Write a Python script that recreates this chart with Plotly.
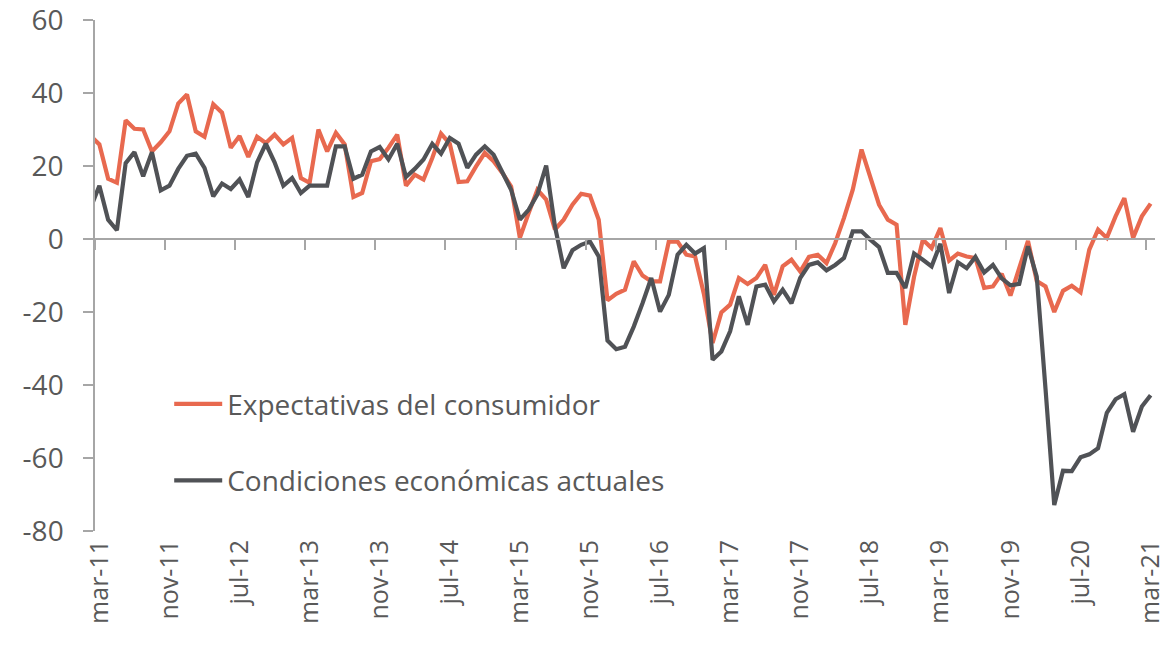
import numpy as np
import plotly.graph_objects as go

# Monthly series, feb-11 (partly hidden at the axis) to mar-21
MESES = ["ene", "feb", "mar", "abr", "may", "jun", "jul", "ago", "sep", "oct", "nov", "dic"]
months = [f"{MESES[(1 + i) % 12]}-{11 + (1 + i) // 12}" for i in range(122)]

expectativas = [
    28.2, 25.9, 16.5, 15.4, 32.5, 30.2, 30.0, 24.0, 26.5, 29.5, 37.1, 39.6, 29.5, 28.0, 36.9, 34.6,
    25.0, 28.2, 22.5, 28.0, 26.3, 28.6, 25.9, 27.7, 16.7, 15.4, 30.0, 24.0, 29.1, 25.9, 11.5, 12.6,
    21.3, 21.9, 25.0, 28.6, 14.6, 17.6, 16.3, 22.2, 28.9, 26.1, 15.6, 15.8, 19.9, 23.6, 21.3, 18.1,
    14.4, 0.3, 7.1, 13.5, 10.8, 2.6, 5.3, 9.4, 12.4, 11.9, 5.3, -16.8, -15.0, -13.9, -6.1, -10.0,
    -11.6, -11.6, -0.7, -0.7, -4.3, -4.8, -15.0, -28.5, -20.1, -18.0, -10.7, -12.3, -10.7, -7.1,
    -15.3, -7.5, -5.7, -8.9, -4.9, -4.3, -6.6, -1.1, 5.8, 13.5, 24.5, 17.2, 9.4, 5.3, 3.9, -23.5,
    -10.3, -0.2, -2.5, 3.0, -5.9, -4.0, -4.8, -5.2, -13.4, -13.0, -9.5, -15.5, -8.0, -0.5, -11.5,
    -13.0, -20.0, -14.2, -12.8, -14.6, -2.9, 2.6, 0.3, 6.2, 11.2, 0.3, 6.2, 9.7,
]

condiciones = [
    8.5, 14.6, 5.3, 2.4, 20.8, 23.8, 17.2, 23.8, 13.3, 14.6, 19.2, 22.8, 23.4, 19.5, 11.7, 15.2,
    13.7, 16.3, 11.5, 21.0, 26.1, 21.0, 14.6, 16.7, 12.6, 14.6, 14.6, 14.6, 25.4, 25.4, 16.5, 17.6,
    24.0, 25.2, 21.8, 26.1, 17.0, 19.2, 21.8, 26.1, 23.4, 27.7, 26.1, 19.5, 23.1, 25.4, 23.1, 18.1,
    13.5, 5.3, 8.0, 12.2, 20.1, 3.5, -8.0, -3.1, -1.6, -0.7, -4.8, -27.8, -30.2, -29.5, -24.0, -17.6,
    -10.7, -19.9, -15.3, -4.3, -1.6, -4.0, -2.5, -33.1, -30.8, -25.3, -15.7, -23.5, -13.0, -12.5,
    -17.1, -13.9, -17.6, -10.7, -7.1, -6.4, -8.6, -7.1, -5.2, 2.1, 2.1, -0.2, -2.2, -9.3, -9.3, -13.4,
    -4.0, -5.7, -7.5, -1.3, -14.8, -6.4, -8.0, -4.9, -9.2, -7.1, -10.8, -12.7, -12.3, -2.0, -10.3,
    -41.0, -72.9, -63.5, -63.6, -59.8, -59.0, -57.3, -47.6, -43.9, -42.5, -52.8, -45.9, -42.8,
]

tick_labels = ["mar-11", "nov-11", "jul-12", "mar-13", "nov-13", "jul-14", "mar-15", "nov-15",
               "jul-16", "mar-17", "nov-17", "jul-18", "mar-19", "nov-19", "jul-20", "mar-21"]
y_ticks = [60, 40, 20, 0, -20, -40, -60, -80]

x = np.arange(len(months)) - 1  # mar-11 -> 0
label_pos = [months.index(l) - 1 for l in tick_labels]
boundaries = [p - 0.5 for p in label_pos]

ORANGE = "#E8694F"
GREY = "#505256"
AXIS = "#A6A6A6"
TEXT = "#595959"
FONT = "Open Sans"

fig = go.Figure()
fig.add_trace(go.Scatter(x=x, y=expectativas, mode="lines", name="Expectativas del consumidor",
                         line=dict(color=ORANGE, width=4.2), legendgroup="a",
                         xaxis="x", yaxis="y"))
fig.add_trace(go.Scatter(x=x, y=condiciones, mode="lines", name="Condiciones económicas actuales",
                         line=dict(color=GREY, width=4.2), legendgroup="b",
                         xaxis="x2", yaxis="y"))

xr = [-0.5, 120.5]
fig.update_layout(
    width=1166, height=648,
    margin=dict(l=95, r=11, t=20, b=117, autoexpand=False),
    paper_bgcolor="white", plot_bgcolor="white",
    font=dict(family=FONT, color=TEXT, size=26),
    showlegend=True,
    legend=dict(x=0.07, y=0.297, xanchor="left", yanchor="top",
                font=dict(family=FONT, size=28, color=TEXT),
                tracegroupgap=37, bgcolor="rgba(0,0,0,0)", itemwidth=48),
    xaxis=dict(range=xr, tickmode="array", tickvals=label_pos, ticktext=tick_labels,
               tickangle=-90, ticks="", showline=False, showgrid=False, zeroline=False,
               automargin=False, ticklabeloverflow="allow",
               tickfont=dict(family=FONT, size=25, color=TEXT), ticklabelstandoff=3),
    xaxis2=dict(range=xr, overlaying="x", anchor="free", position=80 / 140,
                showline=True, linecolor=AXIS, linewidth=1.5,
                tickmode="array", tickvals=boundaries, ticks="outside", ticklen=10,
                tickcolor=AXIS, tickwidth=1.5, showticklabels=False,
                showgrid=False, zeroline=False, automargin=False),
    yaxis=dict(range=[-80, 60], tickmode="array", tickvals=y_ticks,
               ticktext=[str(v) for v in y_ticks], ticks="outside", ticklen=10,
               tickcolor=AXIS, tickwidth=1.5, showline=True, linecolor=AXIS, linewidth=1.5,
               showgrid=False, zeroline=False, automargin=False, ticklabeloverflow="allow",
               tickfont=dict(family=FONT, size=28, color=TEXT), ticklabelstandoff=14),
)

fig.write_html("out.html", config={"displayModeBar": False},
               post_script="document.body.style.margin='0';")
